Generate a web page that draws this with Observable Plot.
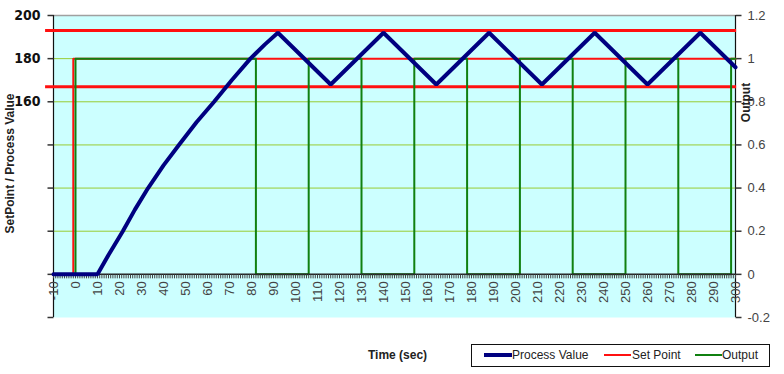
<!DOCTYPE html>
<html><head><meta charset="utf-8">
<script src="https://cdn.jsdelivr.net/npm/d3@7"></script>
<script src="https://cdn.jsdelivr.net/npm/@observablehq/plot@0.6"></script>
<style>
html,body{margin:0;padding:0;background:#fff;}
#wrap{position:relative;width:784px;height:374px;font-family:Arial,"Liberation Sans",sans-serif;overflow:hidden;}
#wrap svg{position:absolute;left:0;top:0;}
.lgbox{position:absolute;left:471px;top:344px;width:297px;height:21px;border:1px solid #111;background:#fff;}
.sw{position:absolute;height:0;}
.lt{position:absolute;font-size:12px;color:#222;line-height:14px;white-space:nowrap;}
</style></head><body><div id="wrap"></div>
<script>
// ---- data ----
const xDomain = [-10, 300];
const xTickLabels = d3.range(-10, 301, 10);
const xMinorTicks = d3.range(-10, 301, 1);
const leftAxisValues = [200, 180, 160, 140, 120, 100, 80, 60];
const leftLabeled = [200, 180, 160];
const gridValues = [180, 160, 140, 120, 100];
const rightTicks = [1.2, 1, 0.8, 0.6, 0.4, 0.2, 0, -0.2];

// Process value (left units)
const pvTime  = [-10, 10, 15, 21.5, 27, 33, 40, 47, 55, 63, 71, 79.5, 86, 92, 116, 140, 164, 188, 212, 236, 260, 284, 300];
const pvValue = [80, 80, 89, 100, 110, 120, 130.5, 140, 150.5, 160, 170, 180, 186.5, 192, 168, 192, 168, 192, 168, 192, 168, 192, 176];

// Set point (left units), step changes
const spTime  = [-10, -1, 300];
const spValue = [80, 180, 180];
// Set point band lines
const bandValues = [193, 167];
const bandStart = -13.6, bandEnd = 300.5;

// Output (right units 0..1), step changes
const outTime  = [-10, 0, 82, 106, 130, 154, 178, 202, 226, 250, 274, 298, 300];
const outValue = [0, 1, 0, 1, 0, 1, 0, 1, 0, 1, 0, 1, 1];

// ---- helpers ----
const toLeft = r => 80 + 100 * r;
const pv = pvTime.map((t, i) => ({t, v: pvValue[i]}));
const sp = spTime.map((t, i) => ({t, v: spValue[i]}));
const out = outTime.map((t, i) => ({t, v: toLeft(outValue[i])}));

const tickDown  = {draw(ctx){ ctx.moveTo(0, 0); ctx.lineTo(0, 4); }};
const tickLeft  = {draw(ctx){ ctx.moveTo(0, 0); ctx.lineTo(-6, 0); }};
const tickRight = {draw(ctx){ ctx.moveTo(0, 0); ctx.lineTo(6, 0); }};

const chart = Plot.plot({
  width: 784, height: 374,
  marginLeft: 53, marginRight: 49, marginTop: 15, marginBottom: 57,
  x: {domain: xDomain, axis: null},
  y: {domain: [60, 200], axis: null},
  style: {fontFamily: "Arial, 'Liberation Sans', sans-serif", background: "transparent"},
  marks: [
    Plot.frame({fill: "#ccffff", stroke: null}),
    Plot.ruleY(gridValues, {y: d => d, stroke: "#99cc33", strokeWidth: 1}),
    Plot.ruleY([200], {stroke: "#a0a0a0", strokeWidth: 1.5}),
    // axes lines
    Plot.ruleX([xDomain[0]], {stroke: "#111", strokeWidth: 1.2}),
    Plot.ruleX([xDomain[1]], {stroke: "#111", strokeWidth: 1.2}),
    Plot.text(xTickLabels, {x: d => d, y: 80, text: d => String(d), rotate: -90, textAnchor: "end", dy: 7, fontSize: 13, fill: "#444"}),
    // left axis ticks & labels
    Plot.dot(leftAxisValues, {y: d => d, frameAnchor: "left", symbol: tickLeft, stroke: "#333", fill: "none", r: 1}),
    Plot.text(leftLabeled, {y: d => d, text: d => String(d), frameAnchor: "left", textAnchor: "end", dx: -13, fontSize: 14, fontWeight: "bold", fontFamily: "'Liberation Sans Narrow', 'DejaVu Sans Condensed', Arial, sans-serif", fill: "#111"}),
    // right axis ticks & labels
    Plot.dot(rightTicks, {y: r => toLeft(r), frameAnchor: "right", symbol: tickRight, stroke: "#333", fill: "none", r: 1}),
    Plot.text(rightTicks, {y: r => toLeft(r), text: r => String(r), frameAnchor: "right", textAnchor: "start", dx: 12, fontSize: 13, fill: "#444"}),
    // titles
    Plot.text(["SetPoint / Process Value"], {frameAnchor: "left", textAnchor: "middle", rotate: -90, dx: -43, dy: -3, fontSize: 12, fontWeight: "bold", fill: "#222"}),
    Plot.text(["Output"], {frameAnchor: "right", textAnchor: "middle", rotate: -90, dx: 11, dy: -64, fontSize: 12, fontWeight: "bold", fill: "#222"}),
    Plot.text(["Time (sec)"], {frameAnchor: "bottom", textAnchor: "middle", dy: 41, dx: 3, fontSize: 12, fontWeight: "bold", fill: "#222"}),
    // series
    Plot.ruleY(bandValues, {y: d => d, x1: bandStart, x2: bandEnd, stroke: "#ff1010", strokeWidth: 3}),
    Plot.line(sp, {x: "t", y: "v", curve: "step-after", stroke: "#ff1010", strokeWidth: 2}),
    Plot.line(out, {x: "t", y: "v", curve: "step-after", stroke: "#108010", strokeWidth: 2}),
    // x axis line and minor ticks drawn over output
    Plot.ruleY([80], {stroke: "#222", strokeWidth: 1.5}),
    Plot.dot(xMinorTicks, {x: d => d, y: 80, symbol: tickDown, stroke: "#444", fill: "none", r: 1, strokeWidth: 1}),
    Plot.line(pv, {x: "t", y: "v", stroke: "#000080", strokeWidth: 4, strokeLinejoin: "miter"})
  ]
});
const wrap = document.getElementById("wrap");
wrap.appendChild(chart);

// legend
const legend = [
  {label: "Process Value", color: "#000080", w: 4, x0: 484, x1: 512, tx: 512},
  {label: "Set Point", color: "#ff1010", w: 2, x0: 604, x1: 631, tx: 632},
  {label: "Output", color: "#108010", w: 2, x0: 695, x1: 722, tx: 722}
];
const box = document.createElement("div");
box.className = "lgbox";
wrap.appendChild(box);
legend.forEach(l => {
  const s = document.createElement("div");
  s.className = "sw";
  s.style.left = l.x0 + "px";
  s.style.width = (l.x1 - l.x0) + "px";
  s.style.top = (355 - l.w / 2) + "px";
  s.style.borderTop = l.w + "px solid " + l.color;
  wrap.appendChild(s);
  const t = document.createElement("div");
  t.className = "lt";
  t.style.left = l.tx + "px";
  t.style.top = "348px";
  t.textContent = l.label;
  wrap.appendChild(t);
});
</script>
</body></html>
